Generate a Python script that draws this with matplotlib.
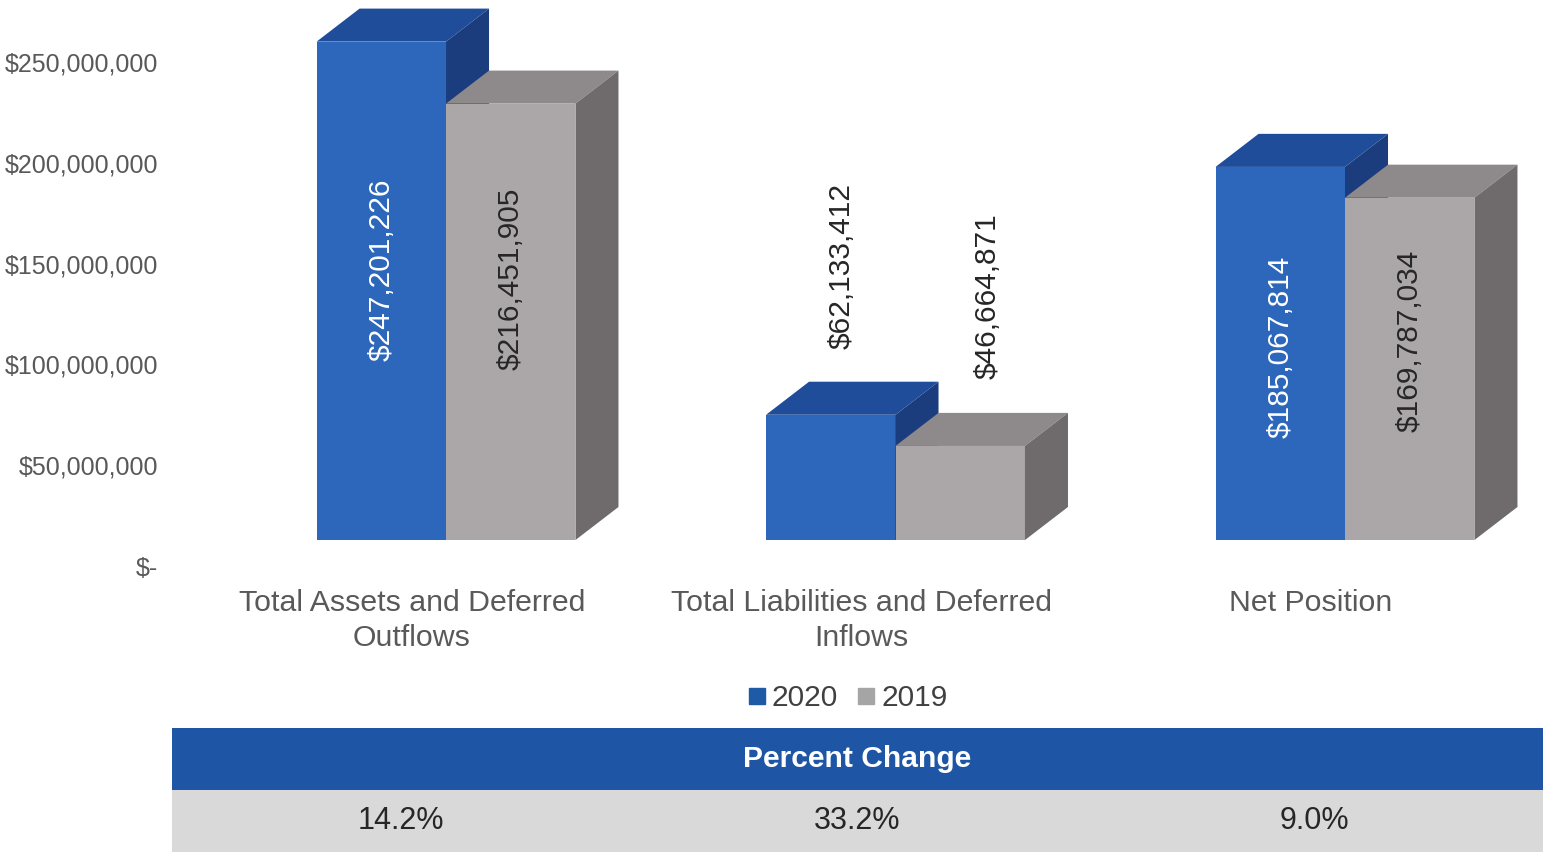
import matplotlib.pyplot as plt
from matplotlib.patches import Polygon, Rectangle
from matplotlib.lines import Line2D
import numpy as np

plt.rcParams['font.family'] = ['Liberation Sans', 'DejaVu Sans']

categories = ['Total Assets and Deferred\nOutflows',
              'Total Liabilities and Deferred\nInflows',
              'Net Position']
values_2020 = [247201226, 62133412, 185067814]
values_2019 = [216451905, 46664871, 169787034]
pct_change = ['14.2%', '33.2%', '9.0%']
tick_values = [0, 50e6, 100e6, 150e6, 200e6, 250e6]
tick_labels = ['$-', '$50,000,000', '$100,000,000', '$150,000,000',
               '$200,000,000', '$250,000,000']

# layout
bar_w = 0.288
dx, dy = 0.0957, 16.4e6          # depth offset of the 3d boxes
tick_shift = -12.9e6             # value labels sit on the back wall
inside_label_y = [[134e6, 129.5e6], [None, None], [95.7e6, 98.7e6]]

blue = dict(front='#2C67BB', top='#1F4D9A', side='#1B3D7E')
grey = dict(front='#ABA7A8', top='#8E898A', side='#6F6A6C')

fig = plt.figure(figsize=(15.43, 8.57), dpi=100)
ax = fig.add_axes([172 / 1543, 197 / 857, 1371 / 1543, 660 / 857])
ax.set_xlim(-0.6096, 2.4405)
ax.set_ylim(-59.5e6, 267.86e6)
for s in ax.spines.values():
    s.set_visible(False)
ax.set_xticks([])
ax.set_yticks([v + tick_shift for v in tick_values])
ax.set_yticklabels(tick_labels, fontsize=18, color='#595959')
ax.tick_params(axis='y', length=0, pad=10)


def box(x0, v, c):
    ax.add_patch(Rectangle((x0, 0), bar_w, v, facecolor=c['front'], lw=0))
    ax.add_patch(Polygon([(x0, v), (x0 + bar_w, v), (x0 + bar_w + dx, v + dy),
                          (x0 + dx, v + dy)], closed=True,
                         facecolor=c['top'], lw=0))
    ax.add_patch(Polygon([(x0 + bar_w, 0), (x0 + bar_w + dx, dy),
                          (x0 + bar_w + dx, v + dy), (x0 + bar_w, v)],
                         closed=True, facecolor=c['side'], lw=0))


for i, (a, b) in enumerate(zip(values_2020, values_2019)):
    box(i - bar_w, a, blue)
    box(i, b, grey)
    la, lb = inside_label_y[i]
    if la is not None:
        ax.text(i - bar_w / 2, la, f'${a:,.0f}', rotation=90, ha='center',
                va='center', fontsize=21.5, color='white')
        ax.text(i + bar_w / 2, lb, f'${b:,.0f}', rotation=90, ha='center',
                va='center', fontsize=21.5, color='#262626')
    else:
        ax.text(i - bar_w / 2 + 0.025, a + dy + 16e6, f'${a:,.0f}', rotation=90,
                ha='center', va='bottom', fontsize=21.5, color='#262626')
        ax.text(i + bar_w / 2 + 0.06, b + dy + 17e6, f'${b:,.0f}', rotation=90,
                ha='center', va='bottom', fontsize=21.5, color='#262626')
    ax.text(i - 0.076, -24.5e6, categories[i], ha='center', va='top',
            fontsize=21.8, color='#595959', linespacing=1.32)

handles = [Line2D([], [], marker='s', ls='none', markersize=11, color='#1F5AA6'),
           Line2D([], [], marker='s', ls='none', markersize=11, color='#A5A5A5')]
fig.legend(handles, ['2020', '2019'], loc='center', ncol=2, frameon=False,
           bbox_to_anchor=(847 / 1543, 1 - 698 / 857), fontsize=21.5,
           handlelength=0.7, handletextpad=0.15, columnspacing=0.6,
           labelcolor='#404040')

# percent change table
tab = fig.add_axes([172 / 1543, 5 / 857, 1371 / 1543, 124 / 857])
tab.set_xlim(0, 3)
tab.set_ylim(0, 2)
tab.axis('off')
tab.add_patch(Rectangle((0, 1), 3, 1, facecolor='#1E56A5', lw=0))
tab.add_patch(Rectangle((0, 0), 3, 1, facecolor='#D9D9D9', lw=0))
tab.text(1.5, 1.5, 'Percent Change', ha='center', va='center', fontsize=21.6,
         fontweight='bold', color='white')
for j, p in enumerate(pct_change):
    tab.text(j + 0.5, 0.5, p, ha='center', va='center', fontsize=22,
             color='#262626')

fig.savefig('out.png', dpi=100)
